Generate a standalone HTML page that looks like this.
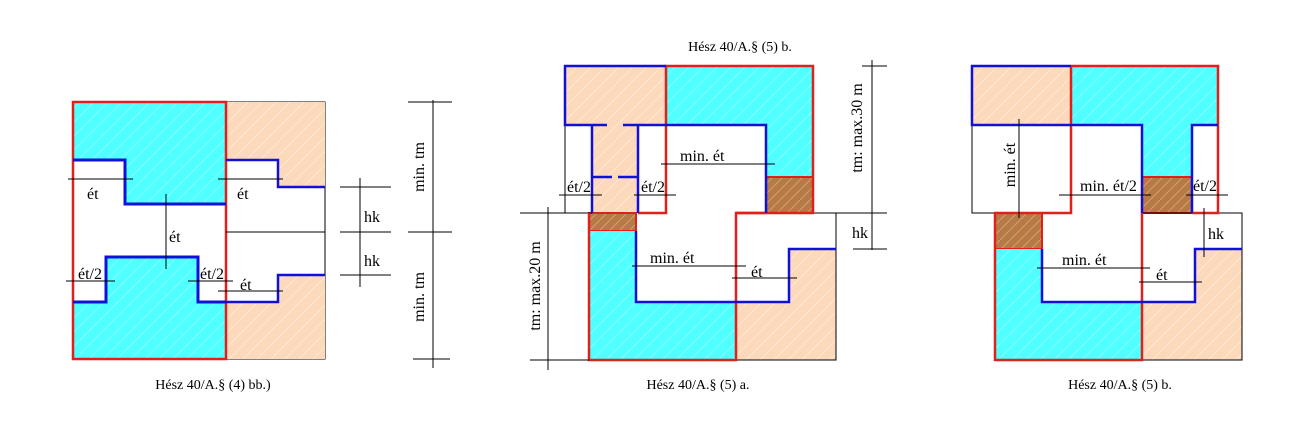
<!DOCTYPE html>
<html><head><meta charset="utf-8"><style>
html,body{margin:0;padding:0;background:#fff;}
svg{display:block;}
text{font-family:"Liberation Serif",serif;font-size:16px;fill:#000;}
.cap{font-size:14px;}
</style></head><body>
<svg width="1297" height="424" viewBox="0 0 1297 424" xmlns="http://www.w3.org/2000/svg">
<defs>
<pattern id="hc" width="14" height="14" patternUnits="userSpaceOnUse"><rect width="14" height="14" fill="#50ffff"/><path d="M0 14L14 0" stroke="#8ff" stroke-width="1"/></pattern>
<pattern id="ho" width="14" height="14" patternUnits="userSpaceOnUse"><rect width="14" height="14" fill="#fdd9bb"/><path d="M0 14L14 0" stroke="#fee8d4" stroke-width="1"/></pattern>
<pattern id="hb" width="10" height="10" patternUnits="userSpaceOnUse"><rect width="10" height="10" fill="#b57a45"/><path d="M0 10L10 0" stroke="#d4a070" stroke-width="1"/></pattern>
</defs>
<g fill="none" stroke-linejoin="miter">
<!-- LEFT -->
<rect x="73" y="102" width="252" height="257" stroke="#000" stroke-width="1"/>
<path d="M73 102H226V204H125V160H73Z" fill="url(#hc)"/>
<path d="M73 302H106V257H198V302H226V359H73Z" fill="url(#hc)"/>
<path d="M226 102H325V187H278V160H226Z" fill="url(#ho)"/>
<path d="M226 302H278V275H325V359H226Z" fill="url(#ho)"/>
<rect x="73" y="102" width="153" height="257" stroke="#e0201a" stroke-width="2.5"/>
<line x1="226" y1="102" x2="226" y2="359" stroke="#e0201a" stroke-width="2"/>
<path d="M73 160H125V204H226" stroke="#1010d8" stroke-width="3"/>
<path d="M73 302H106V257H198V302H226" stroke="#1010d8" stroke-width="3"/>
<path d="M226 160H278V187H325" stroke="#1010d8" stroke-width="2.5"/>
<path d="M226 302H278V275H325" stroke="#1010d8" stroke-width="2.5"/>
<g stroke="#000" stroke-width="1">
<line x1="226" y1="232" x2="325" y2="232"/>
<line x1="68" y1="179" x2="133" y2="179"/><line x1="218" y1="179" x2="283" y2="179"/>
<line x1="166" y1="194" x2="166" y2="269"/>
<line x1="66" y1="281" x2="115" y2="281"/><line x1="188" y1="281" x2="233" y2="281"/>
<line x1="218" y1="291" x2="283" y2="291"/>
<line x1="340" y1="187" x2="391" y2="187"/><line x1="340" y1="232" x2="391" y2="232"/><line x1="340" y1="275" x2="391" y2="275"/>
<line x1="360" y1="178" x2="360" y2="287"/>
<line x1="433" y1="100" x2="433" y2="368"/>
<line x1="408" y1="102" x2="452" y2="102"/><line x1="408" y1="232" x2="452" y2="232"/><line x1="413" y1="359" x2="450" y2="359"/>
</g>
<!-- MIDDLE -->
<rect x="565" y="66" width="101" height="59" fill="url(#ho)"/>
<path d="M666 66H813V213H766V125H666Z" fill="url(#hc)"/>
<rect x="766" y="177" width="47" height="36" fill="url(#hb)" stroke="#e0201a" stroke-width="2"/>
<rect x="592" y="125" width="46" height="88" fill="url(#ho)"/>
<rect x="589" y="213" width="47" height="18" fill="url(#hb)" stroke="#e0201a" stroke-width="2"/>
<path d="M589 231H636V302H736V360H589Z" fill="url(#hc)"/>
<path d="M736 302H789V249H836V360H736Z" fill="url(#ho)"/>
<g stroke="#000" stroke-width="1">
<path d="M565 125V213"/><path d="M520 213H592"/><path d="M736 213H836V360H736"/>
</g>
<path d="M666 125V66H813V213H766" stroke="#e0201a" stroke-width="2.5"/>
<path d="M638 213H666V125" stroke="#e0201a" stroke-width="2.5"/>
<path d="M736 213H766" stroke="#e0201a" stroke-width="2.5"/>
<path d="M589 213V360H736V213H766" stroke="#e0201a" stroke-width="2.5"/>
<path d="M666 66H565V125H607M623 125H666" stroke="#1010d8" stroke-width="2.5"/>
<path d="M666 125H766V213" stroke="#1010d8" stroke-width="2.5"/>
<path d="M592 125V213M638 125V213" stroke="#1010d8" stroke-width="2.5"/>
<path d="M592 177H612M618 177H638" stroke="#1010d8" stroke-width="2.5"/>
<path d="M636 231V302H736" stroke="#1010d8" stroke-width="2.5"/>
<path d="M736 302H789V249H836" stroke="#1010d8" stroke-width="2.5"/>
<g stroke="#000" stroke-width="1">
<line x1="661" y1="164" x2="775" y2="164"/>
<line x1="559" y1="195" x2="602" y2="195"/><line x1="634" y1="195" x2="676" y2="195"/>
<line x1="632" y1="266" x2="746" y2="266"/><line x1="732" y1="278" x2="797" y2="278"/>
<line x1="548" y1="207" x2="548" y2="370"/><line x1="530" y1="360" x2="589" y2="360"/>
<line x1="872" y1="60" x2="872" y2="250"/><line x1="862" y1="66" x2="887" y2="66"/>
<line x1="836" y1="213" x2="887" y2="213"/><line x1="853" y1="249" x2="887" y2="249"/>
</g>
<!-- RIGHT -->
<rect x="972" y="66" width="99" height="59" fill="url(#ho)"/>
<path d="M1071 66H1218V125H1192V213H1142V125H1071Z" fill="url(#hc)"/>
<rect x="1142" y="177" width="50" height="36" fill="url(#hb)" stroke="#e0201a" stroke-width="2"/>
<rect x="995" y="213" width="47" height="36" fill="url(#hb)" stroke="#e0201a" stroke-width="2"/>
<path d="M995 249H1042V302H1142V360H995Z" fill="url(#hc)"/>
<path d="M1142 302H1195V249H1242V360H1142Z" fill="url(#ho)"/>
<g stroke="#000" stroke-width="1">
<path d="M972 125V213H995"/><path d="M1142 213H1242V360H1142"/>
</g>
<path d="M1071 66H1218V213H1192" stroke="#e0201a" stroke-width="2.5"/>
<path d="M1071 66V213H995V360H1142V213" stroke="#e0201a" stroke-width="2.5"/>
<path d="M1071 66H972V125H1071" stroke="#1010d8" stroke-width="2.5"/>
<path d="M1071 125H1142V213" stroke="#1010d8" stroke-width="2.5"/>
<path d="M1218 125H1192V213" stroke="#1010d8" stroke-width="2.5"/>
<path d="M1042 249V302H1195V249H1242" stroke="#1010d8" stroke-width="2.5"/>
<g stroke="#000" stroke-width="1">
<line x1="1019" y1="119" x2="1019" y2="218"/>
<line x1="1059" y1="195" x2="1151" y2="195"/><line x1="1186" y1="195" x2="1228" y2="195"/>
<line x1="1204" y1="208" x2="1204" y2="257"/>
<line x1="1037" y1="268" x2="1150" y2="268"/><line x1="1139" y1="282" x2="1202" y2="282"/>
</g>
</g>
<!-- TEXT -->
<text x="87" y="199">ét</text><text x="237" y="199">ét</text>
<text x="169" y="242">ét</text>
<text x="78" y="279">ét/2</text><text x="200" y="279">ét/2</text>
<text x="240" y="290">ét</text>
<text x="364" y="222">hk</text><text x="364" y="266">hk</text>
<text transform="translate(424,167) rotate(-90)" text-anchor="middle">min. tm</text>
<text transform="translate(424,297) rotate(-90)" text-anchor="middle">min. tm</text>
<text class="cap" x="213" y="389" text-anchor="middle">Hész 40/A.§ (4) bb.)</text>

<text class="cap" x="740" y="51" text-anchor="middle">Hész 40/A.§ (5) b.</text>
<text x="680" y="161">min. ét</text>
<text x="567" y="192">ét/2</text><text x="641" y="192">ét/2</text>
<text x="650" y="263">min. ét</text><text x="751" y="277">ét</text>
<text transform="translate(540,286) rotate(-90)" text-anchor="middle">tm: max.20 m</text>
<text transform="translate(862,128) rotate(-90)" text-anchor="middle">tm: max.30 m</text>
<text x="852" y="238">hk</text>
<text class="cap" x="698" y="389" text-anchor="middle">Hész 40/A.§ (5) a.</text>

<text transform="translate(1015,165) rotate(-90)" text-anchor="middle">min. ét</text>
<text x="1080" y="191">min. ét/2</text><text x="1193" y="191">ét/2</text>
<text x="1208" y="239">hk</text>
<text x="1062" y="265">min. ét</text><text x="1156" y="280">ét</text>
<text class="cap" x="1120" y="389" text-anchor="middle">Hész 40/A.§ (5) b.</text>
</svg>
</body></html>
